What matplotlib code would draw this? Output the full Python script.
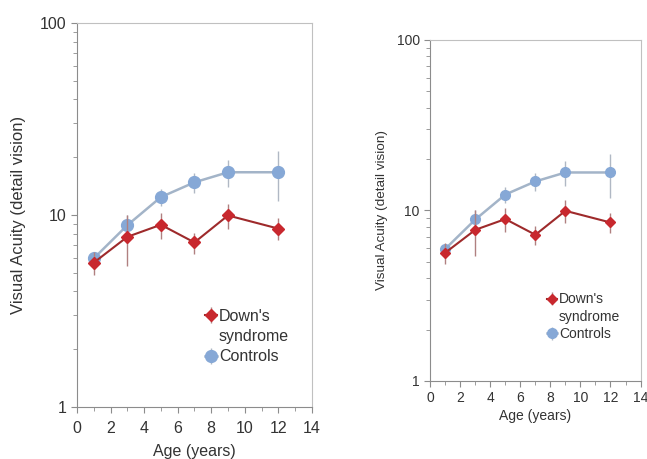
import matplotlib
matplotlib.use("Agg")
import matplotlib.pyplot as plt
from matplotlib.lines import Line2D
from matplotlib.ticker import FixedLocator, NullFormatter

plt.rcParams['font.family'] = ['Liberation Sans', 'DejaVu Sans']

# data
age = [1, 3, 5, 7, 9, 12]
downs = [5.65, 7.7, 8.9, 7.2, 9.95, 8.5]
downs_err = [0.8, 2.3, 1.4, 0.9, 1.5, 1.1]
controls = [5.95, 8.85, 12.4, 14.8, 16.7, 16.7]
controls_err = [0.4, 1.2, 1.3, 1.8, 2.7, 4.8]

red = "#c8282e"
red_line = "#9e2a2b"
blue = "#86a8d6"
blue_line = "#a3b4c8"
gray = "#8c8c8c"


def draw(ax, fs, yfs, ms_d, ms_c, pad, lpad, ylpad, leg_y, lsp):
    hc = ax.errorbar(age, controls, yerr=controls_err, color=blue_line, ecolor="#b0b8c4",
                     elinewidth=1, lw=1.8, marker="o", ms=ms_c, mfc=blue, mec=blue,
                     zorder=2)
    hd = ax.errorbar(age, downs, yerr=downs_err, color=red_line, ecolor="#b08080",
                     elinewidth=1, lw=1.5, marker="D", ms=ms_d, mfc=red, mec=red,
                     zorder=3)
    ax.set_yscale("log")
    ax.set_ylim(1, 100)
    ax.set_xlim(0, 14)
    ax.set_xticks(range(0, 15, 2))
    ax.xaxis.set_minor_locator(FixedLocator(range(1, 14, 2)))
    ax.set_yticks([1, 10, 100])
    ax.set_yticklabels(["1", "10", "100"])
    ax.yaxis.set_minor_formatter(NullFormatter())
    ax.tick_params(which="both", direction="out", color=gray, labelsize=fs,
                   labelcolor="#333333")
    ax.tick_params(axis="x", pad=pad)
    ax.tick_params(which="major", length=4)
    ax.tick_params(which="minor", length=3)
    for s in ax.spines.values():
        s.set_color("#c0c0c0")
    ax.spines["left"].set_color(gray)
    ax.spines["bottom"].set_color(gray)
    ax.set_xlabel("Age (years)", fontsize=fs, color="#333333", labelpad=lpad)
    ax.set_ylabel("Visual Acuity (detail vision)", fontsize=yfs, color="#333333",
                  labelpad=ylpad)
    blank = Line2D([], [], linestyle="none")
    leg = ax.legend([hd, blank, hc], ["Down's", "syndrome", "Controls"],
                    loc="lower right", bbox_to_anchor=(0.93, leg_y),
                    frameon=False, fontsize=fs, handlelength=0.7, handletextpad=0.15,
                    labelspacing=lsp, borderaxespad=0)
    for t in leg.get_texts():
        t.set_color("#333333")


fig = plt.figure(figsize=(6.47, 4.59), dpi=100)
ax1 = fig.add_axes([0.119, 0.113, 0.363, 0.837])
ax2 = fig.add_axes([0.665, 0.170, 0.325, 0.743])
draw(ax1, 11.5, 12, 6.5, 8.5, 6, 6, 10, 0.095, 0.33)
draw(ax2, 10, 9.7, 5, 7, 3, 3, 6, 0.1, 0.25)

fig.savefig("out.png", dpi=100)
